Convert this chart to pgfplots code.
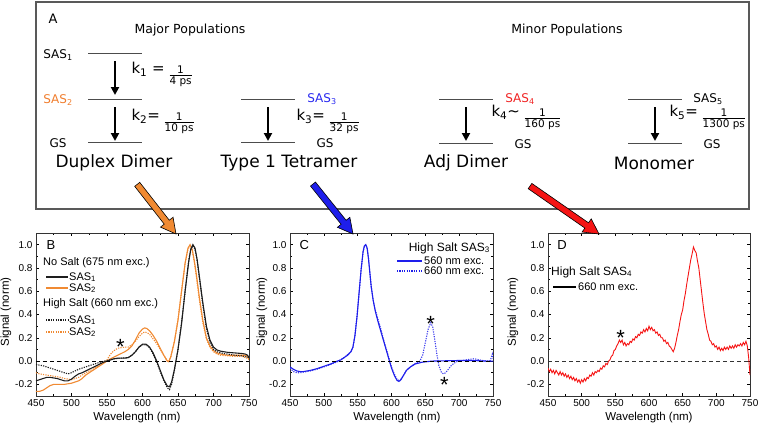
\documentclass[border=0pt]{standalone}
\usepackage{fontspec}
\setmainfont{Liberation Sans}
\newfontfamily\vfont{DejaVu Sans}
\usepackage{pgfplots}
\pgfplotsset{compat=1.18}
\usetikzlibrary{arrows.meta}

\definecolor{sasorange}{RGB}{240,138,50}
\definecolor{sasblue}{RGB}{30,30,235}
\definecolor{sasred}{RGB}{245,20,20}
\definecolor{sasblack}{RGB}{30,30,30}
\definecolor{txtorange}{RGB}{240,125,45}
\definecolor{txtblue}{RGB}{40,40,240}
\definecolor{txtred}{RGB}{240,35,35}

\newcommand{\tickfont}{\fontsize{10}{12}\selectfont}
\newcommand{\lblfont}{\fontsize{11.5}{13}\selectfont}
\newcommand{\legfont}{\fontsize{11}{13}\selectfont}
\newcommand{\legtfont}{\fontsize{12}{14}\selectfont}
\newcommand{\frfont}{\fontsize{10.5}{11}\selectfont}
\newcommand{\fr}[2]{\raisebox{-0.45\height}{\frfont\begin{tabular}{@{}c@{}}#1\\[-2pt]\hline\rule{0pt}{9pt}#2\end{tabular}}}
\newcommand{\astmark}{\fontsize{22}{22}\selectfont *}

\tikzset{dotline/.style={dash pattern=on 1.2pt off 1.2pt}}

\pgfplotsset{
  panel/.style={
    scale only axis, height=163pt,
    xmin=450, xmax=750, ymin=-0.3, ymax=1.1,
    xtick={450,500,...,750},
    ytick={-0.2,0,0.2,0.4,0.6,0.8,1.0},
    minor x tick num=1, minor y tick num=1,
    tick align=inside, major tick length=3pt, minor tick length=2pt,
    tick style={black, line width=0.5pt},
    axis line style={line width=0.6pt, black!80},
    ticklabel style={font=\tickfont},
    /pgf/number format/assume math mode=true,
    yticklabel style={/pgf/number format/fixed, /pgf/number format/fixed zerofill, /pgf/number format/precision=1},
    xticklabel style={/pgf/number format/1000 sep={}},
  },
}

\begin{document}
\begin{tikzpicture}
\useasboundingbox (0pt,0pt) rectangle (760pt,-426pt);

% ---------------- panel B
\begin{axis}[panel, at={(36pt,-396pt)}, anchor=south west, width=213pt]
\addplot[sasorange, line width=1.1pt] coordinates {
(450,-0.26) (455,-0.26) (460,-0.25) (465,-0.23) (470,-0.21) (475,-0.20) (480,-0.20) (485,-0.20) (490,-0.20) (495,-0.195)
(500,-0.19) (505,-0.18) (510,-0.17) (515,-0.15) (520,-0.12) (525,-0.10) (530,-0.08) (535,-0.06) (540,-0.04) (545,-0.02)
(550,0.0) (555,0.02) (560,0.035) (565,0.05) (570,0.065) (575,0.08) (580,0.10) (585,0.13) (590,0.18) (595,0.24)
(600,0.275) (603,0.285) (606,0.28) (610,0.26) (615,0.22) (620,0.17) (625,0.11) (630,0.05) (635,0.0) (637,-0.005)
(640,0.04) (645,0.17) (650,0.35) (655,0.6) (660,0.84) (664,0.97) (667,1.0) (670,0.96) (673,0.86) (676,0.74)
(680,0.55) (685,0.35) (690,0.2) (695,0.13) (700,0.09) (705,0.07) (710,0.06) (720,0.05) (730,0.05) (740,0.05) (745,0.05) (748,0.04) (750,0.01)};
\addplot[sasorange, line width=1.1pt, dotline] coordinates {
(450,-0.10) (455,-0.11) (460,-0.115) (465,-0.12) (470,-0.125) (475,-0.13) (480,-0.135) (485,-0.14) (490,-0.15) (495,-0.155)
(500,-0.16) (505,-0.15) (510,-0.14) (515,-0.12) (520,-0.10) (525,-0.085) (530,-0.07) (535,-0.05) (540,-0.03) (545,-0.01)
(550,0.01) (555,0.06) (560,0.09) (565,0.11) (570,0.115) (575,0.12) (580,0.12) (585,0.14) (590,0.17) (595,0.21)
(600,0.24) (603,0.25) (606,0.245) (610,0.23) (615,0.19) (620,0.15) (625,0.10) (630,0.05) (635,0.0) (637,-0.005)
(640,0.04) (645,0.17) (650,0.36) (655,0.6) (660,0.84) (664,0.96) (667,0.99) (670,0.95) (673,0.85) (676,0.72)
(680,0.53) (685,0.33) (690,0.19) (695,0.12) (700,0.08) (705,0.06) (710,0.05) (720,0.045) (730,0.04) (740,0.04) (750,0.02)};
\addplot[sasblack, line width=1.1pt] coordinates {
(450,-0.17) (455,-0.16) (460,-0.15) (465,-0.14) (470,-0.14) (475,-0.145) (480,-0.15) (485,-0.16) (490,-0.17) (495,-0.17)
(500,-0.155) (505,-0.13) (510,-0.11) (515,-0.10) (520,-0.085) (525,-0.07) (530,-0.055) (535,-0.04) (540,-0.025) (545,-0.01)
(550,0.00) (555,0.01) (560,0.02) (565,0.025) (570,0.025) (575,0.025) (580,0.03) (585,0.05) (590,0.08) (595,0.12)
(600,0.145) (605,0.145) (610,0.12) (615,0.07) (620,0.0) (625,-0.08) (630,-0.16) (635,-0.215) (638,-0.22) (641,-0.18)
(645,-0.07) (650,0.1) (655,0.32) (660,0.6) (665,0.85) (668,0.96) (671,1.0) (674,0.97) (677,0.87) (680,0.73)
(685,0.5) (690,0.3) (695,0.18) (700,0.12) (705,0.095) (710,0.085) (720,0.075) (730,0.07) (740,0.065) (745,0.06) (748,0.05) (750,0.03)};
\addplot[sasblack, line width=1.1pt, dotline] coordinates {
(450,-0.03) (460,-0.04) (470,-0.06) (480,-0.08) (490,-0.10) (495,-0.11) (500,-0.10) (505,-0.085) (510,-0.07) (520,-0.05)
(530,-0.03) (540,-0.01) (550,0.005) (560,0.02) (570,0.025) (580,0.03) (585,0.05) (590,0.08) (595,0.12) (600,0.14)
(605,0.14) (610,0.115) (615,0.06) (620,-0.01) (625,-0.09) (630,-0.17) (635,-0.23) (638,-0.245) (641,-0.2) (645,-0.08)
(650,0.1) (655,0.33) (660,0.6) (665,0.86) (668,0.96) (671,0.99) (674,0.96) (677,0.86) (680,0.72) (685,0.48)
(690,0.28) (695,0.16) (700,0.1) (705,0.08) (710,0.07) (720,0.06) (730,0.05) (740,0.045) (750,0.03)};
\addplot[black, line width=1.1pt, dash pattern=on 4pt off 3pt] coordinates {(450,0) (750,0)};
\node[font=\fontsize{13}{13}\selectfont] at (axis description cs:0.07,0.925) {B};
\node[anchor=base, yshift=-12pt] at (axis cs:569,0.16) {\astmark};
\end{axis}

% ---------------- panel C
\begin{axis}[panel, at={(290pt,-396pt)}, anchor=south west, width=203pt]
\addplot[sasblue!85, line width=1.1pt, dotline] coordinates {
(450,-0.06) (455,-0.09) (460,-0.10) (465,-0.10) (470,-0.095) (480,-0.085) (490,-0.07) (500,-0.05) (510,-0.03) (520,-0.005)
(530,0.03) (540,0.08) (543,0.12) (546,0.22) (549,0.38) (552,0.58) (555,0.78) (558,0.94) (560,0.99) (562,1.0)
(564,0.97) (566,0.88) (568,0.76) (570,0.64) (573,0.52) (576,0.44) (580,0.36) (584,0.28) (588,0.19) (592,0.11)
(596,0.03) (600,-0.05) (604,-0.11) (608,-0.155) (611,-0.165) (614,-0.155) (618,-0.12) (622,-0.08) (628,-0.05) (635,-0.02)
(642,0.0) (646,0.05) (650,0.16) (654,0.27) (658,0.33) (661,0.29) (664,0.18) (667,0.06) (670,-0.04) (674,-0.10)
(677,-0.11) (680,-0.10) (684,-0.07) (688,-0.04) (692,-0.02) (698,0.0) (705,0.005) (715,0.015) (722,0.02) (730,0.01)
(740,0.0) (746,0.005) (749,0.06) (750,0.02)};
\addplot[sasblue, line width=1.1pt] coordinates {
(450,-0.05) (455,-0.07) (460,-0.085) (465,-0.09) (470,-0.09) (475,-0.085) (480,-0.08) (490,-0.065) (500,-0.045) (510,-0.025)
(520,0.0) (525,0.01) (530,0.03) (535,0.05) (540,0.08) (543,0.12) (546,0.22) (549,0.38) (552,0.58) (555,0.78)
(558,0.94) (560,0.99) (562,1.0) (564,0.97) (566,0.88) (568,0.76) (570,0.64) (573,0.52) (576,0.43) (580,0.34)
(584,0.26) (588,0.18) (592,0.10) (596,0.02) (600,-0.06) (604,-0.12) (608,-0.165) (611,-0.175) (614,-0.16) (618,-0.12)
(622,-0.08) (628,-0.05) (635,-0.025) (645,-0.01) (660,0.0) (700,0.005) (720,0.005) (740,0.0) (750,0.0)};
\addplot[black, line width=1.1pt, dash pattern=on 4pt off 3pt] coordinates {(450,0) (750,0)};
\node[font=\fontsize{13}{13}\selectfont] at (axis description cs:0.07,0.925) {C};
\node[anchor=base, yshift=-12pt] at (axis cs:658,0.36) {\astmark};
\node[anchor=base, yshift=-12pt] at (axis cs:678,-0.165) {\astmark};
\end{axis}

% ---------------- panel D
\begin{axis}[panel, at={(548pt,-396pt)}, anchor=south west, width=202pt]
\addplot[sasred, line width=0.9pt] coordinates {
(450,-0.06) (452,-0.09) (454,-0.07) (456,-0.10) (458,-0.08) (460,-0.11) (462,-0.08) (464,-0.10) (466,-0.12) (468,-0.09)
(470,-0.12) (472,-0.10) (474,-0.13) (476,-0.11) (478,-0.14) (480,-0.12) (482,-0.15) (484,-0.13) (486,-0.16) (488,-0.14)
(490,-0.17) (492,-0.15) (494,-0.18) (496,-0.16) (498,-0.19) (500,-0.16) (502,-0.18) (504,-0.15) (506,-0.17) (508,-0.14)
(510,-0.15) (512,-0.12) (514,-0.13) (516,-0.10) (518,-0.12) (520,-0.09) (522,-0.10) (524,-0.08) (526,-0.09) (528,-0.06)
(530,-0.07) (532,-0.04) (534,-0.05) (536,-0.02) (538,-0.03) (540,0.00) (542,0.01) (544,0.04) (546,0.05) (548,0.09)
(550,0.10) (552,0.13) (554,0.15) (556,0.18) (558,0.16) (560,0.18) (562,0.14) (564,0.16) (566,0.13) (568,0.15)
(570,0.14) (572,0.17) (574,0.16) (576,0.19) (578,0.18) (580,0.21) (582,0.20) (584,0.23) (586,0.22) (588,0.25)
(590,0.24) (592,0.27) (594,0.25) (596,0.28) (598,0.26) (600,0.30) (602,0.27) (604,0.29) (606,0.26) (608,0.27)
(610,0.24) (612,0.25) (614,0.22) (616,0.23) (618,0.20) (620,0.20) (622,0.17) (624,0.18) (626,0.15) (628,0.16)
(630,0.13) (632,0.12) (634,0.10) (636,0.08) (638,0.11) (640,0.16) (642,0.22) (644,0.27) (646,0.34) (648,0.40)
(650,0.44) (652,0.52) (654,0.58) (656,0.66) (658,0.73) (660,0.80) (662,0.87) (664,0.92) (666,0.98) (668,0.95)
(670,0.93) (672,0.86) (674,0.80) (676,0.70) (678,0.60) (680,0.50) (682,0.41) (684,0.34) (686,0.27) (688,0.23)
(690,0.18) (692,0.17) (694,0.14) (696,0.15) (698,0.12) (700,0.13) (702,0.10) (704,0.12) (706,0.09) (708,0.11)
(710,0.09) (712,0.12) (714,0.10) (716,0.12) (718,0.10) (720,0.13) (722,0.11) (724,0.13) (726,0.11) (728,0.14)
(730,0.12) (732,0.14) (734,0.13) (736,0.15) (738,0.13) (740,0.16) (742,0.14) (744,0.17) (746,0.13) (748,0.03) (750,-0.12)};
\addplot[black!80, line width=1.1pt, dash pattern=on 4pt off 3pt] coordinates {(450,0) (750,0)};
\node[font=\fontsize{13}{13}\selectfont] at (axis description cs:0.07,0.925) {D};
\node[anchor=base, yshift=-12pt] at (axis cs:558,0.24) {\astmark};
\end{axis}

% ---------------- axis labels and legends of B, C, D
\begin{scope}[x=1pt, y=-1pt]
\begin{scope}[font=\lblfont]
\node at (137,418) {Wavelength (nm)};
\node at (397,418) {Wavelength (nm)};
\node at (649,418) {Wavelength (nm)};
\node[rotate=90] at (6,312) {Signal (norm)};
\node[rotate=90] at (262,312) {Signal (norm)};
\node[rotate=90] at (513,312) {Signal (norm)};
\end{scope}
\begin{scope}[font=\legfont, every node/.style={anchor=west, inner sep=0pt}]
\node at (43,263) {No Salt (675 nm exc.)};
\draw[sasblack, line width=1.1pt] (46,277) -- (68,277);
\node at (69,277) {SAS\textsubscript{1}};
\draw[sasorange, line width=1.1pt] (46,288) -- (68,288);
\node at (69,288) {SAS\textsubscript{2}};
\node at (43,304) {High Salt (660 nm exc.)};
\draw[sasblack, line width=1.1pt, dotline] (46,320) -- (68,320);
\node at (69,320) {SAS\textsubscript{1}};
\draw[sasorange, line width=1.1pt, dotline] (46,332) -- (68,332);
\node at (69,332) {SAS\textsubscript{2}};
% C
\node[anchor=east, font=\legtfont] at (490,248) {High Salt SAS\textsubscript{3}};
\draw[sasblue, line width=1.1pt] (397,261) -- (422,261);
\node at (424,261) {560 nm exc.};
\draw[sasblue, line width=1.1pt, dotline] (397,271) -- (422,271);
\node at (424,271) {660 nm exc.};
% D
\node[font=\legtfont] at (551,272) {High Salt SAS\textsubscript{4}};
\draw[black, line width=1.1pt] (553,287) -- (576,287);
\node at (578,287) {660 nm exc.};
\end{scope}
\end{scope}

% ---------------- scheme box A
\begin{scope}[x=1pt, y=-1pt, font=\vfont]
\draw[line width=1.2pt, black!65] (36,2) rectangle (749,209);
\node[font=\vfont\fontsize{13}{15}\selectfont] at (53,19) {A};
\node[font=\vfont\fontsize{12.5}{15}\selectfont] at (190,30) {Major Populations};
\node[font=\vfont\fontsize{12.5}{15}\selectfont] at (567,30) {Minor Populations};
\begin{scope}[line width=0.8pt, black!70]
\draw (88,53) -- (142,53) (88,99) -- (142,99) (88,142) -- (142,142);
\draw (241,99) -- (295,99) (241,142) -- (295,142);
\draw (439,99) -- (493,99) (439,143) -- (493,143);
\draw (628,99) -- (682,99) (628,143) -- (682,143);
\end{scope}
\begin{scope}[line width=2.4pt, black, -{Triangle[length=8pt,width=8pt]}]
\draw (115,61) -- (115,95);
\draw (115,107) -- (115,141);
\draw (268,107) -- (268,141);
\draw (466,107) -- (466,141);
\draw (655,107) -- (655,141);
\end{scope}
\begin{scope}[font=\vfont\fontsize{12}{14}\selectfont]
\node at (58,55) {SAS\textsubscript{1}};
\node[text=txtorange] at (58,100) {SAS\textsubscript{2}};
\node at (58,143) {GS};
\node[text=txtblue] at (322,99) {SAS\textsubscript{3}};
\node at (325,143) {GS};
\node[text=txtred] at (520,99) {SAS\textsubscript{4}};
\node at (523,144) {GS};
\node at (708,99) {SAS\textsubscript{5}};
\node at (712,144) {GS};
\end{scope}
\begin{scope}[font=\vfont\fontsize{15}{17}\selectfont]
\node[anchor=west] at (128,75) {k\textsubscript{1} = \fr{1}{4 ps}};
\node[anchor=west] at (128,122) {k\textsubscript{2}= \fr{1}{10 ps}};
\node[anchor=west] at (293,122) {k\textsubscript{3}= \fr{1}{32 ps}};
\node[anchor=west] at (488,118) {k\textsubscript{4}∼ \fr{1}{160 ps}};
\node[anchor=west] at (666,118) {k\textsubscript{5}= \fr{1}{1300 ps}};
\end{scope}
\begin{scope}[font=\vfont\fontsize{17}{19}\selectfont]
\node at (114,163) {Duplex Dimer};
\node at (289,163) {Type 1 Tetramer};
\node at (466,163) {Adj Dimer};
\node at (654,163) {Monomer};
\end{scope}
\end{scope}

% ---------------- block arrows to the panels
\begin{scope}[shift={(176pt,-234pt)}, rotate=-52]
\filldraw[fill=sasorange, draw=black, line width=0.6pt] (0pt,0pt) -- (-15pt,8pt) -- (-15pt,3.2pt) -- (-63pt,3.2pt) -- (-63pt,-3.2pt) -- (-15pt,-3.2pt) -- (-15pt,-8pt) -- cycle;
\end{scope}
\begin{scope}[shift={(353pt,-234pt)}, rotate=-51.3]
\filldraw[fill=sasblue, draw=black, line width=0.6pt] (0pt,0pt) -- (-15pt,8pt) -- (-15pt,3.2pt) -- (-64pt,3.2pt) -- (-64pt,-3.2pt) -- (-15pt,-3.2pt) -- (-15pt,-8pt) -- cycle;
\end{scope}
\begin{scope}[shift={(599pt,-234pt)}, rotate=-34.8]
\filldraw[fill=sasred, draw=black, line width=0.6pt] (0pt,0pt) -- (-15pt,8pt) -- (-15pt,3.2pt) -- (-84pt,3.2pt) -- (-84pt,-3.2pt) -- (-15pt,-3.2pt) -- (-15pt,-8pt) -- cycle;
\end{scope}
\end{tikzpicture}
\end{document}
